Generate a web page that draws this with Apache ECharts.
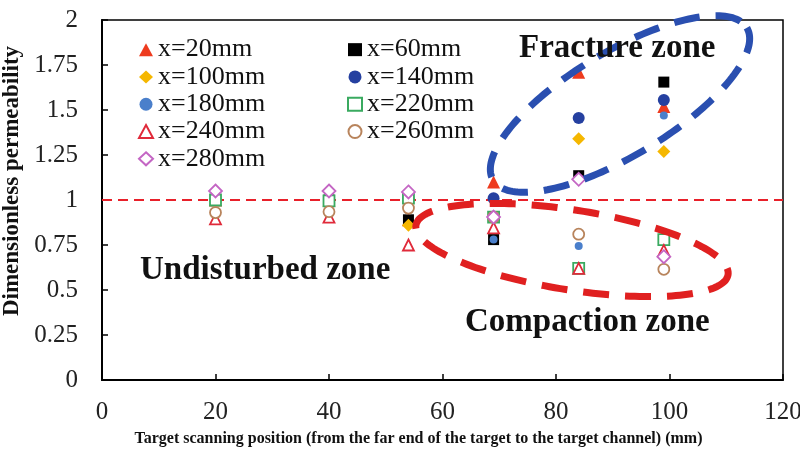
<!DOCTYPE html>
<html>
<head>
<meta charset="utf-8">
<script src="https://cdn.jsdelivr.net/npm/echarts@6/dist/echarts.min.js"></script>
<style>html,body{margin:0;padding:0;background:#fff;}#c{width:800px;height:455px;}</style>
</head>
<body>
<div id="c"></div>
<script>
// scanning positions (mm)
const positions = [20, 40, 54, 69, 84, 99];
const seriesNames = ['x=20mm', 'x=60mm', 'x=100mm', 'x=140mm', 'x=180mm', 'x=220mm', 'x=240mm', 'x=260mm', 'x=280mm'];
const s20  = [1.00, 1.00, 0.89, 1.10, 1.71, 1.52];
const s60  = [1.00, 1.00, 0.89, 0.78, 1.135, 1.655];
const s100 = [1.05, 1.05, 0.86, 0.905, 1.34, 1.27];
const s140 = [1.00, 1.00, 1.01, 1.01, 1.455, 1.555];
const s180 = [1.00, 1.00, 1.01, 0.78, 0.745, 1.47];
const s220 = [1.00, 0.995, 1.01, 0.905, 0.62, 0.78];
const s240 = [0.895, 0.905, 0.75, 0.845, 0.62, 0.72];
const s260 = [0.93, 0.935, 0.955, 0.905, 0.81, 0.615];
const s280 = [1.05, 1.05, 1.045, 0.905, 1.115, 0.685];
const yTicks = [0, 0.25, 0.5, 0.75, 1, 1.25, 1.5, 1.75, 2];
const xTicks = [0, 20, 40, 60, 80, 100, 120];
const refLevel = 1;

const values = [s20, s60, s100, s140, s180, s220, s240, s260, s280];
const FONT = "'Liberation Serif', 'Times New Roman', serif";

const styles = [
  {symbol: 'triangle', size: 13, item: {color: '#ee3b1e'}},
  {symbol: 'rect', size: 11, item: {color: '#000000'}},
  {symbol: 'diamond', size: 13, item: {color: '#f5b700'}},
  {symbol: 'circle', size: 12, item: {color: '#2540a0'}},
  {symbol: 'circle', size: 8, item: {color: '#4a7fcb'}},
  {symbol: 'rect', size: 11, item: {color: '#ffffff', borderColor: '#3aaa60', borderWidth: 1.8}},
  {symbol: 'triangle', size: 11, item: {color: '#ffffff', borderColor: '#e02a3a', borderWidth: 1.8}},
  {symbol: 'circle', size: 11, item: {color: '#ffffff', borderColor: '#b8845c', borderWidth: 1.8}},
  {symbol: 'diamond', size: 13, item: {color: '#ffffff', borderColor: '#c466c4', borderWidth: 1.8}}
];

const series = seriesNames.map((name, i) => {
  const s = {
    name: name,
    type: 'scatter',
    symbol: styles[i].symbol,
    symbolSize: styles[i].size,
    itemStyle: Object.assign({opacity: 1}, styles[i].item),
    data: positions.map((p, j) => [p, values[i][j]]),
    z: 3 + i * 0.01
  };
  if (i === 0) {
    s.markLine = {
      silent: true,
      symbol: 'none',
      label: {show: false},
      lineStyle: {color: '#e8202a', type: [10, 6], width: 2},
      data: [{yAxis: refLevel}],
      z: 1
    };
  }
  return s;
});

const legendText = {fontFamily: FONT, fontSize: 26, color: '#111', lineHeight: 27.3};
const col1 = [0, 2, 4, 6, 8].map(i => seriesNames[i]);
const col2 = [1, 3, 5, 7].map(i => seriesNames[i]);

// annotation outline (not data): ellipse outline points
function ellipsePoints(cx, cy, rx, ry, deg) {
  const r = deg * Math.PI / 180, pts = [];
  for (let k = 0; k < 180; k++) {
    const t = k / 180 * 2 * Math.PI;
    const ex = rx * Math.cos(t), ey = ry * Math.sin(t);
    pts.push([cx + ex * Math.cos(r) - ey * Math.sin(r), cy + ex * Math.sin(r) + ey * Math.cos(r)]);
  }
  return pts;
}

const zoneFont = "bold 33px 'Liberation Serif', serif";

const chart = echarts.init(document.getElementById('c'), null, {renderer: 'canvas'});
chart.setOption({
  backgroundColor: '#ffffff',
  animation: false,
  grid: {left: 102, right: 17, top: 20, bottom: 75, containLabel: false, outerBoundsMode: 'none',
         show: true, borderColor: '#000', borderWidth: 1.5, backgroundColor: 'transparent'},
  legend: [
    {data: col1, orient: 'vertical', left: 133, top: 31, itemWidth: 14, itemHeight: 13, itemGap: 0, textStyle: legendText, selectedMode: false},
    {data: col2, orient: 'vertical', left: 342, top: 31, itemWidth: 14, itemHeight: 13, itemGap: 0, textStyle: legendText, selectedMode: false}
  ],
  xAxis: {
    type: 'value', min: xTicks[0], max: xTicks[xTicks.length - 1], interval: 20,
    name: 'Target scanning position (from the far end of the target to the target channel) (mm)',
    nameLocation: 'middle', nameGap: 51,
    nameTextStyle: {fontFamily: FONT, fontWeight: 'bold', fontSize: 16, color: '#111', padding: [0, 48, 0, 0]},
    axisLine: {show: true, lineStyle: {color: '#000', width: 2}},
    axisTick: {show: true, inside: true, length: 6, lineStyle: {color: '#000', width: 1.5}},
    axisLabel: {fontFamily: FONT, fontSize: 25, color: '#222', margin: 20},
    splitLine: {show: false}
  },
  yAxis: {
    type: 'value', min: yTicks[0], max: yTicks[yTicks.length - 1], interval: 0.25,
    name: 'Dimensionless permeability',
    nameLocation: 'middle', nameGap: 76, nameRotate: 90,
    nameTextStyle: {fontFamily: FONT, fontWeight: 'bold', fontSize: 23, color: '#111', padding: [0, 0, 0, 38]},
    axisLine: {show: true, lineStyle: {color: '#000', width: 2}},
    axisTick: {show: true, inside: true, length: 6, lineStyle: {color: '#000', width: 1.5}},
    axisLabel: {fontFamily: FONT, fontSize: 25, color: '#222', margin: 24},
    splitLine: {show: false}
  },
  series: series,
  graphic: [
    {type: 'polygon', z: 10, shape: {points: ellipsePoints(620, 104, 148, 52, -31)},
     style: {fill: 'none', stroke: '#2a4fb0', lineWidth: 7, lineDash: [26, 16]}},
    {type: 'polygon', z: 10, shape: {points: ellipsePoints(572, 250, 158, 40, 9)},
     style: {fill: 'none', stroke: '#e02020', lineWidth: 7, lineDash: [26, 16]}},
    {type: 'text', z: 11, style: {x: 519, y: 48, text: 'Fracture zone', font: zoneFont, fill: '#111', textVerticalAlign: 'middle'}},
    {type: 'text', z: 11, style: {x: 140, y: 270, text: 'Undisturbed zone', font: zoneFont, fill: '#111', textVerticalAlign: 'middle'}},
    {type: 'text', z: 11, style: {x: 465, y: 322, text: 'Compaction zone', font: zoneFont, fill: '#111', textVerticalAlign: 'middle'}}
  ]
});
</script>
</body>
</html>
